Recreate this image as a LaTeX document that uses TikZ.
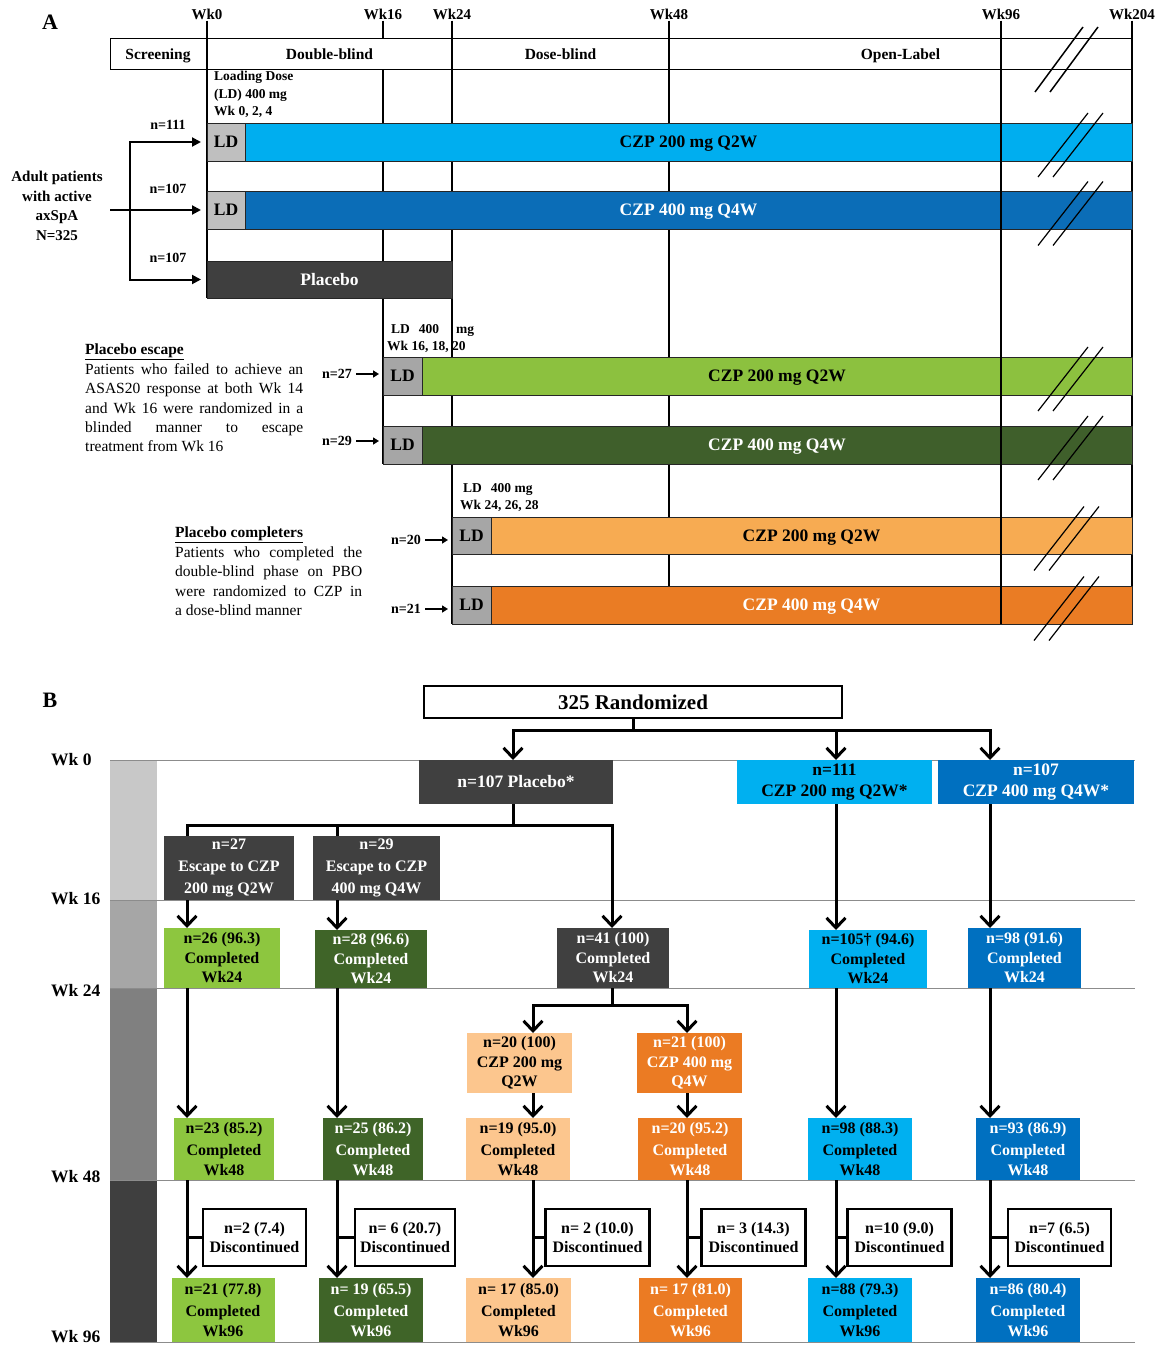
\documentclass[tikz,border=0pt]{standalone}
\usepackage{fontspec}
\setmainfont{Liberation Serif}
\usetikzlibrary{arrows.meta,backgrounds,calc}
\newcommand\fs[2]{\fontsize{#1}{#2}\selectfont}
\definecolor{cyanA}{HTML}{00AEEF}
\definecolor{blueA}{HTML}{0B6DB7}
\definecolor{lgreenA}{HTML}{8CC13F}
\definecolor{dgreenA}{HTML}{3F5F2B}
\definecolor{lorA}{HTML}{F7AB52}
\definecolor{orA}{HTML}{EA7C24}
\definecolor{ldgA}{HTML}{BFBFBF}
\definecolor{ldgB}{HTML}{A6A6A6}
\definecolor{plA}{HTML}{3F3F3F}
\definecolor{cyanB}{HTML}{00B0F0}
\definecolor{blueB}{HTML}{0070C0}
\definecolor{lgreenB}{HTML}{8DC63F}
\definecolor{dgreenB}{HTML}{3F6428}
\definecolor{grayB}{HTML}{404040}
\definecolor{lorB}{HTML}{FCC68E}
\definecolor{orB}{HTML}{EB7B23}
\definecolor{tl1}{HTML}{C8C8C8}
\definecolor{tl2}{HTML}{A6A6A6}
\definecolor{tl3}{HTML}{808080}
\definecolor{tl4}{HTML}{3F3F3F}
\begin{document}
\begin{tikzpicture}[x=1pt,y=-1pt,
  wk/.style={font=\fs{15}{18}\bfseries, inner sep=1pt},
  hd/.style={font=\fs{15.5}{18}\bfseries, inner sep=0pt, anchor=base},
  ldst/.style={draw=black!85, line width=0.8pt, fill=#1, anchor=north west, minimum width=38, minimum height=38, inner sep=0pt, outer sep=0pt, text height=11.6pt, text depth=0pt, font=\fs{17.5}{20}\bfseries},
  barst/.style={draw=black!85, line width=0.8pt, fill=#1, anchor=north west, minimum height=38, inner sep=0pt, outer sep=0pt, text height=11.6pt, text depth=0pt, font=\fs{17.5}{20}\bfseries},
  nlab/.style={font=\fs{14}{16}\bfseries, inner sep=1pt},
  wkl/.style={line width=2.4pt, black},
  aarr/.style={line width=2pt, -{Triangle[length=9pt,width=9pt]}, shorten >=6pt},
  sarr/.style={line width=1.8pt, -{Triangle[length=6pt,width=7pt]}, shorten <=3pt, shorten >=4pt},
  slashst/.style={line width=1.2pt},
  bx/.style n args={3}{fill=#1, minimum width=#2, minimum height=#3, inner sep=0pt, outer sep=0pt, align=center, font=\fs{16}{19.5}\bfseries},
  discst/.style={draw, line width=2.2pt, fill=white, minimum width=#1, minimum height=57, inner sep=0pt, outer sep=0pt, align=center, font=\fs{16}{19}\bfseries},
  barr/.style={line width=3pt, -{Straight Barb[length=10pt,width=19pt]}},
  bln/.style={line width=3pt},
  gridln/.style={draw=black!45, line width=1pt},
  para/.style={anchor=north west, align=justify, inner sep=0pt, font=\fs{15.5}{19.4}}
]
\useasboundingbox (0,0) rectangle (1159,1347);
\begin{pgfonlayer}{background}
\fill[white] (0,0) rectangle (1159,1347);
\end{pgfonlayer}

%================ PART A =================
\node[font=\fs{22}{24}\bfseries] (labA) at (50,22) {A};
\node[wk] (w0) at (207,14) {Wk0};
\node[wk] (w16) at (383,14) {Wk16};
\node[wk] (w24) at (452,14) {Wk24};
\node[wk] (w48) at (669,14) {Wk48};
\node[wk] (w96) at (1001,14) {Wk96};
\node[wk] (w204) at (1132,14) {Wk204};

\node[draw, line width=0.8pt, anchor=north west, minimum width=1022, minimum height=31, inner sep=0pt, outer sep=0pt] (hdr) at (110,38) {};
\node[hd] (hs) at (158,59) {Screening};
\node[hd] (hdb) at (329.5,59) {Double-blind};
\node[hd] (hdo) at (560.5,59) {Dose-blind};
\node[hd] (hol) at (900.5,59) {Open-Label};

\node[anchor=north west, align=left, inner sep=0pt, font=\fs{13.5}{17.5}\bfseries] (ldt1) at (214,71) {Loading Dose\\(LD) 400 mg\\Wk 0, 2, 4};

% bars
\node[ldst=ldgA] (ld1) at (207,123) {LD};
\node[barst=cyanA, minimum width=887] (bar1) at (245,123) {CZP 200 mg Q2W};
\node[ldst=ldgA] (ld2) at (207,191) {LD};
\node[barst=blueA, minimum width=887, text=white] (bar2) at (245,191) {CZP 400 mg Q4W};
\node[barst=plA, minimum width=245, minimum height=37, text=white] (pbar) at (207,261) {Placebo};

\node[ldst=ldgB, minimum width=39] (ld3) at (383,357) {LD};
\node[barst=lgreenA, minimum width=710] (bar3) at (422,357) {CZP 200 mg Q2W};
\node[ldst=ldgB, minimum width=39] (ld4) at (383,426) {LD};
\node[barst=dgreenA, minimum width=710, text=white] (bar4) at (422,426) {CZP 400 mg Q4W};

\node[ldst=ldgB, minimum width=39, minimum height=37] (ld5) at (452,517) {LD};
\node[barst=lorA, minimum width=641, minimum height=37] (bar5) at (491,517) {CZP 200 mg Q2W};
\node[ldst=ldgB, minimum width=39] (ld6) at (452,586) {LD};
\node[barst=orA, minimum width=641, text=white] (bar6) at (491,586) {CZP 400 mg Q4W};

% week lines (behind bars)
\begin{pgfonlayer}{background}
\draw[wkl] (w0.south) -- (pbar.south west);
\draw[wkl] (w16.south) -- (w16.south |- hdr.north);
\draw[wkl] (w16.south |- hdr.south) -- (w16.south |- bar4.south);
\draw[wkl] (w24.south) -- (w24.south |- bar6.south);
\draw[wkl] (w48.south) -- (w48.south |- bar6.south);
\draw[wkl] (w204.south) -- (w204.south |- bar6.south);
\end{pgfonlayer}
\draw[wkl] (w96.south) -- (w96.south |- bar6.south);

% break marks
\draw[line width=1.5pt] (1035,92) -- (1083,27);
\draw[line width=1.5pt] (1050,92) -- (1098,27);
\foreach \yc/\xo in {142/1038, 210.5/1038, 376/1038, 445/1038, 535.5/1034, 605.5/1034}{
  \draw[slashst] (\xo,\yc+35) -- (\xo+50,\yc-29);
  \draw[slashst] (\xo+15,\yc+35) -- (\xo+65,\yc-29);
}

% adult patients
\node[align=center, font=\fs{15}{19.5}\bfseries] (adult) at (57,206) {Adult patients\\with active\\axSpA\\N=325};
\node[nlab] (n111) at (168,125) {n=111};
\node[nlab] (n107a) at (168,189) {n=107};
\node[nlab] (n107b) at (168,258) {n=107};
\path (ld2.west) ++(-77,0) coordinate (br);
\draw[aarr, shorten <=4pt] (adult.east |- ld2.west) -- (ld2.west);
\draw[aarr] (br) |- (ld1.west);
\draw[aarr] (br) |- (pbar.west);

% placebo escape
\node[anchor=north west, align=left, inner sep=0pt, font=\fs{13.5}{17}\bfseries] (ldt2) at (387,324) {\hspace*{4pt}LD\hspace{9pt}400\hspace{17pt}mg\\Wk 16, 18, 20};
\node[nlab, anchor=east] (n27) at (353,374) {n=27};
\node[nlab, anchor=east] (n29) at (353,441) {n=29};
\draw[sarr] (n27.east) -- (n27.east -| ld3.west);
\draw[sarr] (n29.east) -- (n29.east -| ld4.west);
\node[para, text width=218] (escp) at (85,344) {\textbf{\underline{Placebo escape}}\\Patients who failed to achieve an\linebreak ASAS20 response at both Wk 14\linebreak and Wk 16 were randomized in a\linebreak blinded manner to escape\linebreak treatment from Wk 16};

% placebo completers
\node[anchor=north west, align=left, inner sep=0pt, font=\fs{13.5}{17}\bfseries] (ldt3) at (460,483) {\hspace*{3pt}LD\hspace{9pt}400 mg\\Wk 24, 26, 28};
\node[nlab, anchor=east] (n20) at (422,540) {n=20};
\node[nlab, anchor=east] (n21) at (422,609) {n=21};
\draw[sarr] (n20.east) -- (n20.east -| ld5.west);
\draw[sarr] (n21.east) -- (n21.east -| ld6.west);
\node[para, text width=187] (cmpp) at (175,527) {\textbf{\underline{Placebo completers}}\\Patients who completed the\linebreak double-blind phase on PBO\linebreak were randomized to CZP in\linebreak a dose-blind manner};

%================ PART B =================
\node[font=\fs{22}{24}\bfseries] (labB) at (50,700) {B};
\begin{pgfonlayer}{background}
\fill[tl1] (110,760) rectangle (157,900);
\fill[tl2] (110,900) rectangle (157,988);
\fill[tl3] (110,988) rectangle (157,1180);
\fill[tl4] (110,1180) rectangle (157,1342);
\draw[gridln] (110,760) -- (1135,760);
\draw[gridln] (110,900) -- (1135,900);
\draw[gridln] (110,988) -- (1135,988);
\draw[gridln] (110,1180) -- (1135,1180);
\draw[gridln] (110,1342) -- (1135,1342);
\end{pgfonlayer}
\node[anchor=west, inner sep=0pt, font=\fs{17.5}{20}\bfseries] (t0) at (51,760) {Wk 0};
\node[anchor=west, inner sep=0pt, font=\fs{17.5}{20}\bfseries] (t16) at (51,899) {Wk 16};
\node[anchor=west, inner sep=0pt, font=\fs{17.5}{20}\bfseries] (t24) at (51,991) {Wk 24};
\node[anchor=west, inner sep=0pt, font=\fs{17.5}{20}\bfseries] (t48) at (51,1177) {Wk 48};
\node[anchor=west, inner sep=0pt, font=\fs{17.5}{20}\bfseries] (t96) at (51,1337) {Wk 96};

\node[draw, line width=2pt, fill=white, minimum width=418, minimum height=32, inner sep=0pt, outer sep=0pt, font=\fs{21}{24}\bfseries] (rand) at (633,702) {325 Randomized};

\node[bx={grayB}{194}{44}, text=white, font=\fs{17.5}{21}\bfseries] (plB) at (516,782) {n=107 Placebo*};
\node[bx={cyanB}{195}{44}, font=\fs{17.5}{21}\bfseries] (cz2B) at (834.5,782) {n=111\\CZP 200 mg Q2W*};
\node[bx={blueB}{196}{44}, text=white, font=\fs{17.5}{21}\bfseries] (cz4B) at (1036,782) {n=107\\CZP 400 mg Q4W*};

\node[bx={grayB}{130}{64}, text=white, font=\fs{16}{22}\bfseries] (esc1) at (229,868) {n=27\\Escape to CZP\\200 mg Q2W};
\node[bx={grayB}{127}{64}, text=white, font=\fs{16}{22}\bfseries] (esc2) at (376.5,868) {n=29\\Escape to CZP\\400 mg Q4W};

\node[bx={lgreenB}{116}{60}] (g24) at (222,958) {n=26 (96.3)\\Completed\\Wk24};
\node[bx={dgreenB}{112}{58}, text=white] (dg24) at (371,959) {n=28 (96.6)\\Completed\\Wk24};
\node[bx={grayB}{112}{60}, text=white] (gr24) at (613,958) {n=41 (100)\\Completed\\Wk24};
\node[bx={cyanB}{118}{58}] (cy24) at (868,959) {n=105† (94.6)\\Completed\\Wk24};
\node[bx={blueB}{113}{60}, text=white] (bl24) at (1024.5,958) {n=98 (91.6)\\Completed\\Wk24};

\node[bx={lorB}{105}{60}] (lo1) at (519.5,1063) {n=20 (100)\\CZP 200 mg\\Q2W};
\node[bx={orB}{105}{60}, text=white] (or1) at (689.5,1063) {n=21 (100)\\CZP 400 mg\\Q4W};

\node[bx={lgreenB}{100}{62}] (g48) at (224,1149) {n=23 (85.2)\\[3pt]Completed\\Wk48};
\node[bx={dgreenB}{100}{62}, text=white] (dg48) at (373,1149) {n=25 (86.2)\\[3pt]Completed\\Wk48};
\node[bx={lorB}{104}{62}] (lo48) at (518,1149) {n=19 (95.0)\\[3pt]Completed\\Wk48};
\node[bx={orB}{104}{62}, text=white] (or48) at (690,1149) {n=20 (95.2)\\[3pt]Completed\\Wk48};
\node[bx={cyanB}{104}{62}] (cy48) at (860,1149) {n=98 (88.3)\\[3pt]Completed\\Wk48};
\node[bx={blueB}{104}{62}, text=white] (bl48) at (1028,1149) {n=93 (86.9)\\[3pt]Completed\\Wk48};

\node[discst=103] (d1) at (254.5,1237.5) {n=2 (7.4)\\Discontinued};
\node[discst=100] (d2) at (405,1237.5) {n= 6 (20.7)\\Discontinued};
\node[discst=104] (d3) at (597.5,1237.5) {n= 2 (10.0)\\Discontinued};
\node[discst=104] (d4) at (753.5,1237.5) {n= 3 (14.3)\\Discontinued};
\node[discst=104] (d5) at (899.5,1237.5) {n=10 (9.0)\\Discontinued};
\node[discst=103] (d6) at (1059.5,1237.5) {n=7 (6.5)\\Discontinued};

\node[bx={lgreenB}{103}{64}] (g96) at (223,1310) {n=21 (77.8)\\[3pt]Completed\\Wk96};
\node[bx={dgreenB}{104}{64}, text=white] (dg96) at (371,1310) {n= 19 (65.5)\\[3pt]Completed\\Wk96};
\node[bx={lorB}{105}{64}] (lo96) at (518.5,1310) {n= 17 (85.0)\\[3pt]Completed\\Wk96};
\node[bx={orB}{103}{64}, text=white] (or96) at (690.5,1310) {n= 17 (81.0)\\[3pt]Completed\\Wk96};
\node[bx={cyanB}{104}{64}] (cy96) at (860,1310) {n=88 (79.3)\\[3pt]Completed\\Wk96};
\node[bx={blueB}{104}{64}, text=white] (bl96) at (1028,1310) {n=86 (80.4)\\[3pt]Completed\\Wk96};

% columns
\coordinate (c1) at (187,0);
\coordinate (c2) at (337,0);
\coordinate (c3) at (533,0);
\coordinate (c4) at (687,0);
\coordinate (c5) at (836,0);
\coordinate (c6) at (990,0);
\coordinate (cP) at (513,0);
\coordinate (cG) at (612,0);

% connectors B
\path (rand.south) ++(0,12) coordinate (rj);
\draw[bln] (rand.south) -- (rj);
\draw[barr] (rj) -| (plB.north -| cP);
\draw[barr] (rj) -| (cz2B.north -| c5);
\draw[barr] (rj) -| (cz4B.north -| c6);

\path (plB.south -| cP) ++(0,21) coordinate (pj);
\draw[bln] (plB.south -| cP) -- (pj);
\draw[bln] (pj) -| (esc1.north -| c1);
\draw[bln] (pj) -| (esc2.north -| c2);
\draw[barr] (pj) -| (gr24.north -| cG);

\draw[barr] (esc1.south -| c1) -- (g24.north -| c1);
\draw[barr] (esc2.south -| c2) -- (dg24.north -| c2);
\draw[barr] (cz2B.south -| c5) -- (cy24.north -| c5);
\draw[barr] (cz4B.south -| c6) -- (bl24.north -| c6);

\draw[barr] (g24.south -| c1) -- (g48.north -| c1);
\draw[barr] (dg24.south -| c2) -- (dg48.north -| c2);
\draw[barr] (cy24.south -| c5) -- (cy48.north -| c5);
\draw[barr] (bl24.south -| c6) -- (bl48.north -| c6);

\path (gr24.south -| cG) ++(0,17) coordinate (gj);
\draw[bln] (gr24.south -| cG) -- (gj);
\draw[barr] (gj) -| (lo1.north -| c3);
\draw[barr] (gj) -| (or1.north -| c4);
\draw[barr] (lo1.south -| c3) -- (lo48.north -| c3);
\draw[barr] (or1.south -| c4) -- (or48.north -| c4);

\draw[barr] (g48.south -| c1) -- (g96.north -| c1);
\draw[barr] (dg48.south -| c2) -- (dg96.north -| c2);
\draw[barr] (lo48.south -| c3) -- (lo96.north -| c3);
\draw[barr] (or48.south -| c4) -- (or96.north -| c4);
\draw[barr] (cy48.south -| c5) -- (cy96.north -| c5);
\draw[barr] (bl48.south -| c6) -- (bl96.north -| c6);

\draw[bln] (d1.west) -- (d1.west -| c1);
\draw[bln] (d2.west) -- (d2.west -| c2);
\draw[bln] (d3.west) -- (d3.west -| c3);
\draw[bln] (d4.west) -- (d4.west -| c4);
\draw[bln] (d5.west) -- (d5.west -| c5);
\draw[bln] (d6.west) -- (d6.west -| c6);
\end{tikzpicture}
\end{document}
